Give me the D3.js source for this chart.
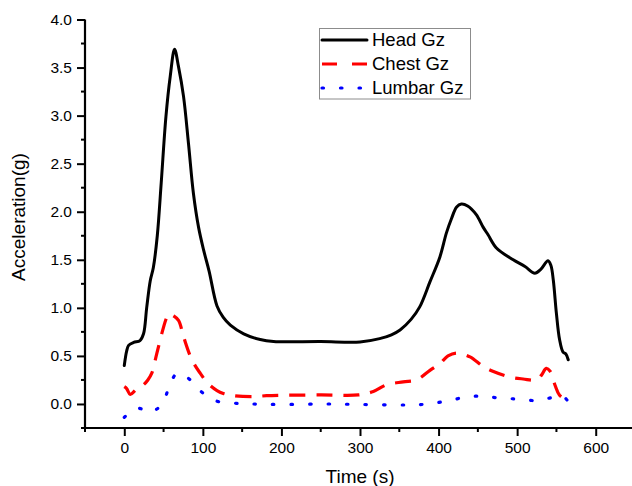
<!DOCTYPE html>
<html>
<head>
<meta charset="utf-8">
<script src="https://cdn.jsdelivr.net/npm/d3@7"></script>
<style>
  html, body { margin: 0; padding: 0; background: #fff; }
  svg { display: block; }
  text { font-family: "Liberation Sans", Arial, sans-serif; fill: #000; }
</style>
</head>
<body>
<svg id="chart" width="632" height="486"></svg>
<script>
// ---------- data ----------
const headX = [0, 3, 5.5, 12, 20, 24.5, 28.5, 33, 37, 42, 47, 53, 58.5, 64, 69, 75.4, 81.7, 88, 94.5, 101, 108, 118, 126, 135, 152, 173, 190, 250, 300, 325, 340, 351, 365, 376, 389, 401.7, 410, 416.5, 423, 429, 437, 448, 456.7, 463, 474, 495, 510, 522.5, 530, 539.3, 543, 546, 550, 554, 558.4, 562, 565];
const headY = [0.40, 0.55, 0.61, 0.64, 0.66, 0.73, 1.00, 1.28, 1.42, 1.75, 2.30, 2.99, 3.41, 3.69, 3.51, 3.20, 2.71, 2.19, 1.84, 1.60, 1.38, 1.02, 0.90, 0.82, 0.73, 0.67, 0.65, 0.65, 0.645, 0.68, 0.72, 0.77, 0.88, 1.01, 1.27, 1.53, 1.78, 1.93, 2.05, 2.08, 2.06, 1.97, 1.84, 1.76, 1.62, 1.50, 1.43, 1.36, 1.40, 1.49, 1.44, 1.29, 0.94, 0.67, 0.54, 0.52, 0.46];

const chestX = [0, 3, 7.6, 15, 24.5, 30, 35, 41.5, 50, 54, 57, 62, 69, 75.4, 86, 96.6, 107, 118, 126, 139, 164, 181, 249, 298, 317, 334, 355, 372, 389, 401.7, 412, 423, 440, 456.7, 469, 490.7, 507.6, 524.6, 531, 537, 542, 548, 554, 563.5];
const chestY = [0.18, 0.16, 0.10, 0.15, 0.20, 0.25, 0.32, 0.53, 0.80, 0.90, 0.94, 0.92, 0.87, 0.70, 0.46, 0.32, 0.21, 0.14, 0.11, 0.086, 0.076, 0.086, 0.094, 0.094, 0.13, 0.20, 0.23, 0.25, 0.35, 0.42, 0.50, 0.53, 0.49, 0.39, 0.34, 0.28, 0.26, 0.25, 0.30, 0.37, 0.34, 0.20, 0.09, 0.035];

const lumbarX = [0, 8, 16, 25, 33, 42, 48, 56.3, 62, 67, 75, 84, 92, 100.8, 110, 120, 142, 164, 200, 255, 300, 347, 370, 393, 416.5, 439, 458, 481, 503, 525.8, 543.7, 557.6, 563.5];
const lumbarY = [-0.14, -0.08, -0.045, -0.06, -0.09, -0.05, -0.01, 0.16, 0.27, 0.32, 0.30, 0.25, 0.17, 0.11, 0.06, 0.024, 0.007, 0.0, -0.005, 0.0, -0.005, -0.01, -0.01, 0.007, 0.04, 0.08, 0.076, 0.06, 0.05, 0.035, 0.066, 0.086, 0.04];

const seriesNames = ["Head Gz", "Chest Gz", "Lumbar Gz"];
const xMajorTicks = [0, 100, 200, 300, 400, 500, 600];
const xMinorTicks = [-50, 50, 150, 250, 350, 450, 550, 650];
const yMajorTicks = [0.0, 0.5, 1.0, 1.5, 2.0, 2.5, 3.0, 3.5, 4.0];
const yMinorTicks = [-0.25, 0.25, 0.75, 1.25, 1.75, 2.25, 2.75, 3.25, 3.75];
const xTitle = "Time (s)";
const yTitle = "Acceleration(g)";

// ---------- layout ----------
const svg = d3.select("#chart");
const x = d3.scaleLinear().domain([-50, 650]).range([85, 635]);
const y = d3.scaleLinear().domain([-0.25, 4.0]).range([428, 19.5]);

const styles = [
  { color: "#000000", width: 3, dash: null, cap: "round", legendDash: null },
  { color: "#ff0000", width: 3.2, dash: "16,11", cap: "butt", legendDash: "15,15" },
  { color: "#0000ff", width: 3.2, dash: "1.5,17", cap: "round", legendDash: "1.5,17" }
];

const toPts = (xs, ys) => xs.map((v, i) => [v, ys[i]]);
const data = [toPts(headX, headY), toPts(chestX, chestY), toPts(lumbarX, lumbarY)];

const line = d3.line().x(d => x(d[0])).y(d => y(d[1])).curve(d3.curveCatmullRom.alpha(0.5));

// series (draw lumbar first, head last)
[2, 1, 0].forEach(i => {
  svg.append("path")
    .datum(data[i])
    .attr("d", line)
    .attr("fill", "none")
    .attr("stroke", styles[i].color)
    .attr("stroke-width", styles[i].width)
    .attr("stroke-linecap", styles[i].cap)
    .attr("stroke-linejoin", "round")
    .attr("stroke-dasharray", styles[i].dash);
});

// ---------- axes ----------
const fontTick = 15.5;
const xAxis = svg.append("g").attr("transform", `translate(0,${y(-0.25)})`)
  .call(d3.axisBottom(x).tickValues(xMajorTicks).tickSize(8).tickPadding(6).tickFormat(d3.format("d")));
xAxis.select(".domain").attr("d", `M${x(-50)},0H${x(650)}`).attr("stroke-width", 2.2);
xAxis.selectAll(".tick line").attr("stroke-width", 2);
xAxis.selectAll("text").attr("font-size", fontTick).attr("font-family", "Liberation Sans, Arial, sans-serif");
xAxis.selectAll(".minor").data(xMinorTicks).enter().append("line")
  .attr("class", "minor").attr("x1", d => x(d)).attr("x2", d => x(d))
  .attr("y1", 0).attr("y2", 4).attr("stroke", "#000").attr("stroke-width", 2);

const yAxis = svg.append("g").attr("transform", `translate(${x(-50)},0)`)
  .call(d3.axisLeft(y).tickValues(yMajorTicks).tickSize(8).tickPadding(5).tickFormat(d3.format(".1f")));
yAxis.select(".domain").attr("d", `M0,${y(4.0)}V${y(-0.25)}`).attr("stroke-width", 2.2);
yAxis.selectAll(".tick line").attr("stroke-width", 2);
yAxis.selectAll("text").attr("font-size", fontTick).attr("font-family", "Liberation Sans, Arial, sans-serif");
yAxis.selectAll(".minor").data(yMinorTicks).enter().append("line")
  .attr("class", "minor").attr("y1", d => y(d)).attr("y2", d => y(d))
  .attr("x1", 0).attr("x2", -4).attr("stroke", "#000").attr("stroke-width", 2);

// titles
svg.append("text").attr("x", 360).attr("y", 483).attr("text-anchor", "middle")
  .attr("font-size", 19).text(xTitle);
svg.append("text").attr("transform", "translate(25,217) rotate(-90)").attr("text-anchor", "middle")
  .attr("font-size", 19).text(yTitle);

// ---------- legend ----------
const lg = svg.append("g");
lg.append("rect").attr("x", 319.5).attr("y", 28.5).attr("width", 151).attr("height", 70.5)
  .attr("fill", "#fff").attr("stroke", "#8c8c8c").attr("stroke-width", 1);
seriesNames.forEach((name, i) => {
  const yy = 40 + i * 24;
  lg.append("line").attr("x1", 322).attr("x2", 367).attr("y1", yy).attr("y2", yy)
    .attr("stroke", styles[i].color).attr("stroke-width", styles[i].width)
    .attr("stroke-linecap", styles[i].cap)
    .attr("stroke-dasharray", styles[i].legendDash);
  lg.append("text").attr("x", 372).attr("y", yy).attr("dy", "0.35em")
    .attr("font-size", 18.5).text(name);
});
</script>
</body>
</html>
